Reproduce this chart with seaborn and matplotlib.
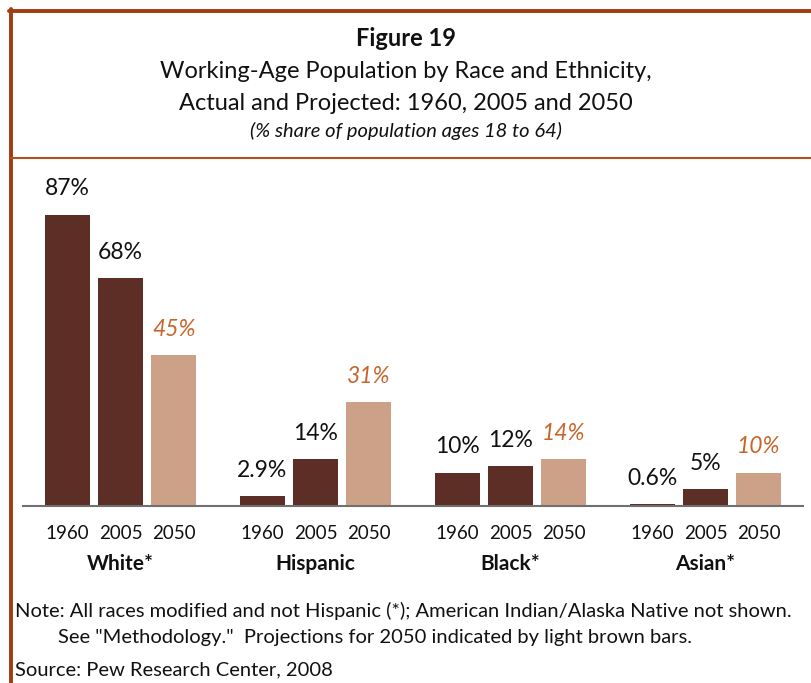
import matplotlib
matplotlib.use("Agg")
import matplotlib.pyplot as plt
import matplotlib.transforms as mtransforms
from matplotlib.lines import Line2D
import seaborn as sns
import pandas as pd

categories = ["White*", "Hispanic", "Black*", "Asian*"]
years = ["1960", "2005", "2050"]
values_1960 = [87, 2.9, 10, 0.6]
values_2005 = [68, 14, 12, 5]
values_2050 = [45, 31, 14, 10]
labels_1960 = ["87%", "2.9%", "10%", "0.6%"]
labels_2005 = ["68%", "14%", "12%", "5%"]
labels_2050 = ["45%", "31%", "14%", "10%"]

rows = []
for yr, vals in zip(years, [values_1960, values_2005, values_2050]):
    for c, v in zip(categories, vals):
        rows.append({"category": c, "year": yr, "value": v})
df = pd.DataFrame(rows)

DARK = "#5C2E25"
LIGHT = "#CDA188"
ORANGE = "#C8652B"
FRAME = "#A33A10"

sns.set_theme(style="white")
FONT = "Lato"
plt.rcParams["font.family"] = [FONT, "DejaVu Sans"]

W, H = 811, 683
fig = plt.figure(figsize=(W / 100, H / 100), dpi=100)

def fx(px):
    return px / W

def fy(py):
    return 1 - py / H

ax_left, ax_right = 23, 803
ax_bottom, px_per_unit = 506, 3.35
ax_top = ax_bottom - 100 * px_per_unit
ax = fig.add_axes([fx(ax_left), fy(ax_bottom), fx(ax_right - ax_left), (ax_bottom - ax_top) / H])

sns.barplot(data=df, x="category", y="value", hue="year", order=categories,
            hue_order=years, palette={"1960": DARK, "2005": DARK, "2050": LIGHT},
            width=0.82, gap=0.154, saturation=1, legend=False, ax=ax, linewidth=0)

ax.set_xlim(-0.5, 3.5)
ax.set_ylim(0, 100)
for s in ["top", "left", "right"]:
    ax.spines[s].set_visible(False)
ax.spines["bottom"].set_color("#707070")
ax.spines["bottom"].set_linewidth(1.5)
ax.set_yticks([])
ax.set_xlabel("")
ax.set_ylabel("")

all_labels = [labels_1960, labels_2005, labels_2050]
tick_pos, tick_lab = [], []
for i, cont in enumerate(ax.containers):
    ax.bar_label(cont, labels=all_labels[i], padding=11,
                 fontsize=16.5, color=ORANGE if years[i] == "2050" else "#111111",
                 style="italic" if years[i] == "2050" else "normal")
    for p in cont.patches:
        tick_pos.append(p.get_x() + p.get_width() / 2)
        tick_lab.append(years[i])
ax.set_xticks(tick_pos)
ax.set_xticklabels(tick_lab, fontsize=13.5, color="#111111")
ax.tick_params(axis="x", length=0, pad=14)

trans = mtransforms.blended_transform_factory(ax.transData, fig.transFigure)
for i, c in enumerate(categories):
    ax.text(i, fy(564), c, transform=trans, ha="center", va="center",
            fontsize=15, fontweight="bold", color="#111111")

# titles
fig.text(0.5, fy(38), "Figure 19", ha="center", va="center", fontsize=17, fontweight="bold", color="#111111")
fig.text(0.5, fy(72), "Working-Age Population by Race and Ethnicity,", ha="center", va="center", fontsize=17, color="#111111")
fig.text(0.5, fy(103), "Actual and Projected: 1960, 2005 and 2050", ha="center", va="center", fontsize=17, color="#111111")
fig.text(0.5, fy(131), "(% share of population ages 18 to 64)", ha="center", va="center", fontsize=14.5, style="italic", color="#111111")

# notes
fig.text(fx(15), fy(611), "Note: All races modified and not Hispanic (*); American Indian/Alaska Native not shown.",
         ha="left", va="center", fontsize=14.5, color="#111111")
fig.text(fx(58), fy(638), "See \"Methodology.\"  Projections for 2050 indicated by light brown bars.",
         ha="left", va="center", fontsize=14.5, color="#111111")
fig.text(fx(15), fy(670), "Source: Pew Research Center, 2008",
         ha="left", va="center", fontsize=14.5, color="#111111")

# frame
fig.add_artist(Line2D([fx(9), 1.0], [fy(10.5), fy(10.5)], transform=fig.transFigure, color=FRAME, lw=2.8))
fig.add_artist(Line2D([fx(10.5), fx(10.5)], [fy(9), 0.0], transform=fig.transFigure, color=FRAME, lw=2.8))
fig.add_artist(Line2D([fx(10), 1.0], [fy(158), fy(158)], transform=fig.transFigure, color="#B4501E", lw=1.5))

fig.savefig("out.png", dpi=100)
